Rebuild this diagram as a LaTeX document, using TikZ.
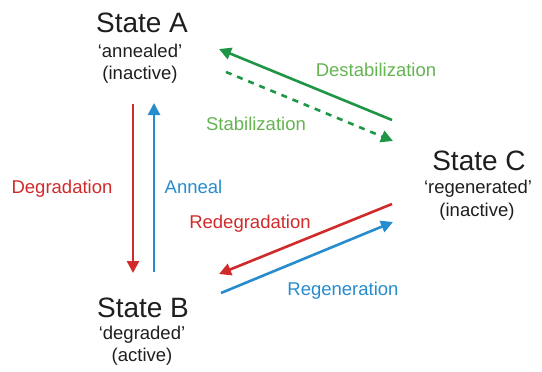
\documentclass[tikz,border=0pt]{standalone}
\usepackage{fontspec}
\setmainfont{Liberation Sans}
\usetikzlibrary{arrows.meta}
\definecolor{cred}{RGB}{208,42,42}
\definecolor{cgreen}{RGB}{30,150,70}
\definecolor{lgreen}{RGB}{100,180,80}
\definecolor{cblue}{RGB}{38,140,205}
\definecolor{ctext}{RGB}{30,30,30}
\tikzset{
  title/.style={anchor=base,inner sep=0pt,text=ctext,font=\fontsize{28}{30}\selectfont},
  sub/.style={anchor=base,inner sep=0pt,text=ctext,font=\fontsize{18.5}{22}\selectfont},
  lab/.style={anchor=base,inner sep=0pt,font=\fontsize{18.5}{22}\selectfont},
  arr/.style={line width=2.6pt,-{Triangle[length=12pt,width=12pt]}},
}
\begin{document}
\begin{tikzpicture}[x=1pt,y=-1pt]
\useasboundingbox (0,0) rectangle (542,372);
% states
\node[title] (A) at (142,32) {State A};
\node[sub] (A1) at (140,57) {‘annealed’};
\node[sub] (A2) at (140,79) {(inactive)};
\node[title] (B) at (143,317) {State B};
\node[sub] (B1) at (142,339) {‘degraded’};
\node[sub] (B2) at (142,361) {(active)};
\node[title] (C) at (479,170) {State C};
\node[sub] (C1) at (478,193) {‘regenerated’};
\node[sub] (C2) at (477,216) {(inactive)};
% arrow end points
\coordinate (dg1) at (133,104);
\coordinate (dg2) at (133,273);
\coordinate (an1) at (154,272);
\coordinate (an2) at (154,103);
\coordinate (de1) at (392,120);
\coordinate (de2) at (219,49);
\coordinate (st1) at (226,72);
\coordinate (st2) at (393,141);
\coordinate (rd1) at (392,204);
\coordinate (rd2) at (219,274);
\coordinate (rg1) at (221,293);
\coordinate (rg2) at (393,222);
% arrows
\draw[arr,cred] (dg1) -- (dg2);
\draw[arr,cblue] (an1) -- (an2);
\draw[arr,cgreen] (de1) -- (de2);
\draw[arr,cgreen,dash pattern=on 6pt off 6pt] (st1) -- (st2);
\draw[arr,cred] (rd1) -- (rd2);
\draw[arr,cblue] (rg1) -- (rg2);
% labels
\node[lab,text=cred] (lDg) at (62,193) {Degradation};
\node[lab,text=cblue] (lAn) at (193.5,193) {Anneal};
\node[lab,text=lgreen] (lDe) at (376,77) {Destabilization};
\node[lab,text=lgreen] (lSt) at (256,130) {Stabilization};
\node[lab,text=cred] (lRd) at (250,228) {Redegradation};
\node[lab,text=cblue] (lRg) at (343,295) {Regeneration};
\end{tikzpicture}
\end{document}
